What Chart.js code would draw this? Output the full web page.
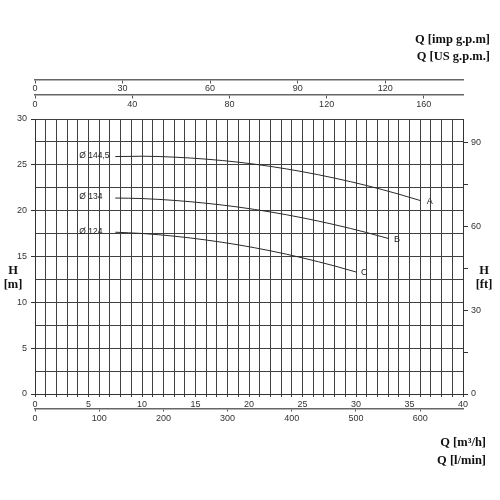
<!DOCTYPE html>
<html><head><meta charset="utf-8">
<script src="https://cdn.jsdelivr.net/npm/chart.js@4/dist/chart.umd.min.js"></script>
<style>html,body{margin:0;padding:0;background:#fff}</style>
</head><body>
<canvas id="c" width="500" height="500"></canvas>
<script>
// Curve data: flow Q [m3/h] and head H [m]
const qA = [7.5, 10, 13, 16, 19, 22, 25, 28, 31, 34, 36.05];
const hA = [25.9, 25.94, 25.84, 25.62, 25.29, 24.83, 24.25, 23.55, 22.74, 21.8, 21.09];
const qB = [7.5, 10, 13, 16, 19, 22, 25, 28, 31, 33.08];
const hB = [21.38, 21.32, 21.12, 20.81, 20.39, 19.86, 19.22, 18.47, 17.61, 16.95];
const qC = [7.5, 10, 13, 16, 19, 22, 25, 28, 30];
const hC = [17.65, 17.51, 17.22, 16.8, 16.27, 15.62, 14.85, 13.97, 13.31];
const curveLetters = ['A', 'B', 'C'];
const impellerLabels = ['Ø 144,5', 'Ø 134', 'Ø 124'];

// Axis ranges / tick steps
const qMax = 40;          // m3/h
const hMax = 30;          // m
const qStep = 1, qLabelStep = 5;
const hStep = 2.5, hLabelStep = 5;
const lminStep = 100, usStep = 40, impStep = 30, ftStep = 15, ftLabelStep = 30;
const toLmin = 1000 / 60, toUS = 4.40287, toImp = 3.66615, toFt = 3.28084;

const mk = (qs, hs) => qs.map((q, i) => ({x: q, y: hs[i]}));
const lineColor = '#2a2a2a';
const gridColor = '#404040';
const tickFont = {family: '"Liberation Sans", Arial, sans-serif', size: 9};

const textPlugin = {
  id: 'texts',
  afterDraw(chart) {
    const ctx = chart.ctx;
    ctx.save();
    ctx.fillStyle = '#111';
    ctx.font = 'bold 12.5px "Liberation Serif", serif';
    ctx.textBaseline = 'middle';
    ctx.textAlign = 'right';
    ctx.fillText('Q [imp g.p.m]', 490, 40);
    ctx.fillText('Q [US g.p.m.]', 490, 57);
    ctx.fillText('Q [m³/h]', 486, 443);
    ctx.fillText('Q [l/min]', 486, 461);
    ctx.textAlign = 'center';
    ctx.fillText('H', 13, 271);
    ctx.fillText('[m]', 13, 285);
    ctx.fillText('H', 484, 271);
    ctx.fillText('[ft]', 484, 285);
    // curve labels
    ctx.fillStyle = '#222';
    ctx.textAlign = 'left';
    chart.data.datasets.forEach((ds, i) => {
      const pts = chart.getDatasetMeta(i).data;
      const first = pts[0], last = pts[pts.length - 1];
      ctx.font = '8.5px "Liberation Sans", Arial, sans-serif';
      ctx.fillText(impellerLabels[i], first.x - 36, first.y - 1);
      ctx.font = '9px "Liberation Sans", Arial, sans-serif';
      ctx.fillText(curveLetters[i], last.x + (i === 0 ? 6 : 5), last.y + 1);
    });
    ctx.restore();
  }
};

new Chart(document.getElementById('c'), {
  type: 'scatter',
  data: {
    datasets: [mk(qA, hA), mk(qB, hB), mk(qC, hC)].map(d => ({
      data: d, showLine: true, borderColor: lineColor, borderWidth: 1,
      pointRadius: 0, cubicInterpolationMode: 'monotone', fill: false
    }))
  },
  options: {
    responsive: false, animation: false,
    layout: {padding: {top: 119, left: 0, right: 0, bottom: 0}},
    plugins: {legend: {display: false}, tooltip: {enabled: false}},
    scales: {
      x: {
        type: 'linear', position: 'bottom', min: 0, max: qMax,
        ticks: {stepSize: qStep, autoSkip: false, maxRotation: 0, maxTicksLimit: 100, padding: 2,
          font: tickFont, color: '#333',
          callback: v => (v % qLabelStep === 0 ? String(v) : '')},
        grid: {color: gridColor, lineWidth: 1, tickLength: 3, tickColor: '#333'},
        border: {color: '#333', width: 1},
        afterFit: s => { s.height = 106; }
      },
      xl: {
        axis: 'x', type: 'linear', position: {y: -1.64}, min: 0, max: qMax * toLmin,
        ticks: {stepSize: lminStep, includeBounds: false, autoSkip: false, maxRotation: 0, padding: 2,
          font: tickFont, color: '#333'},
        grid: {drawOnChartArea: false, tickLength: 2, tickColor: '#555'},
        border: {color: '#666', width: 1.5}
      },
      xu: {
        axis: 'x', type: 'linear', position: {y: 32.65}, min: 0, max: qMax * toUS,
        ticks: {stepSize: usStep, includeBounds: false, autoSkip: false, maxRotation: 0, padding: 1,
          font: tickFont, color: '#333'},
        grid: {drawOnChartArea: false, tickLength: 3, tickColor: '#555'},
        border: {color: '#666', width: 1.5}
      },
      xi: {
        axis: 'x', type: 'linear', position: {y: 34.33}, min: 0, max: qMax * toImp,
        ticks: {stepSize: impStep, includeBounds: false, autoSkip: false, maxRotation: 0, padding: 1,
          font: tickFont, color: '#333'},
        grid: {drawOnChartArea: false, tickLength: 3, tickColor: '#555'},
        border: {color: '#666', width: 1.5}
      },
      y: {
        type: 'linear', position: 'left', min: 0, max: hMax,
        ticks: {stepSize: hStep, autoSkip: false, maxTicksLimit: 100, padding: 4, font: tickFont, color: '#333',
          callback: v => (v % hLabelStep === 0 ? String(v) : '')},
        grid: {color: gridColor, lineWidth: 1, tickLength: 4,
          tickColor: c => (c.tick && c.tick.value % hLabelStep === 0 ? '#333' : 'rgba(0,0,0,0)')},
        border: {color: '#333', width: 1},
        afterFit: s => { s.width = 35; }
      },
      yft: {
        type: 'linear', position: 'right', min: 0, max: hMax * toFt,
        ticks: {stepSize: ftStep, includeBounds: false, autoSkip: false, padding: 3, font: tickFont, color: '#333',
          callback: v => (v % ftLabelStep === 0 ? String(v) : '')},
        grid: {drawOnChartArea: false, tickLength: 5, tickColor: '#333'},
        border: {color: '#333', width: 1},
        afterFit: s => { s.width = 37; }
      }
    }
  },
  plugins: [textPlugin]
});
</script>
</body></html>
